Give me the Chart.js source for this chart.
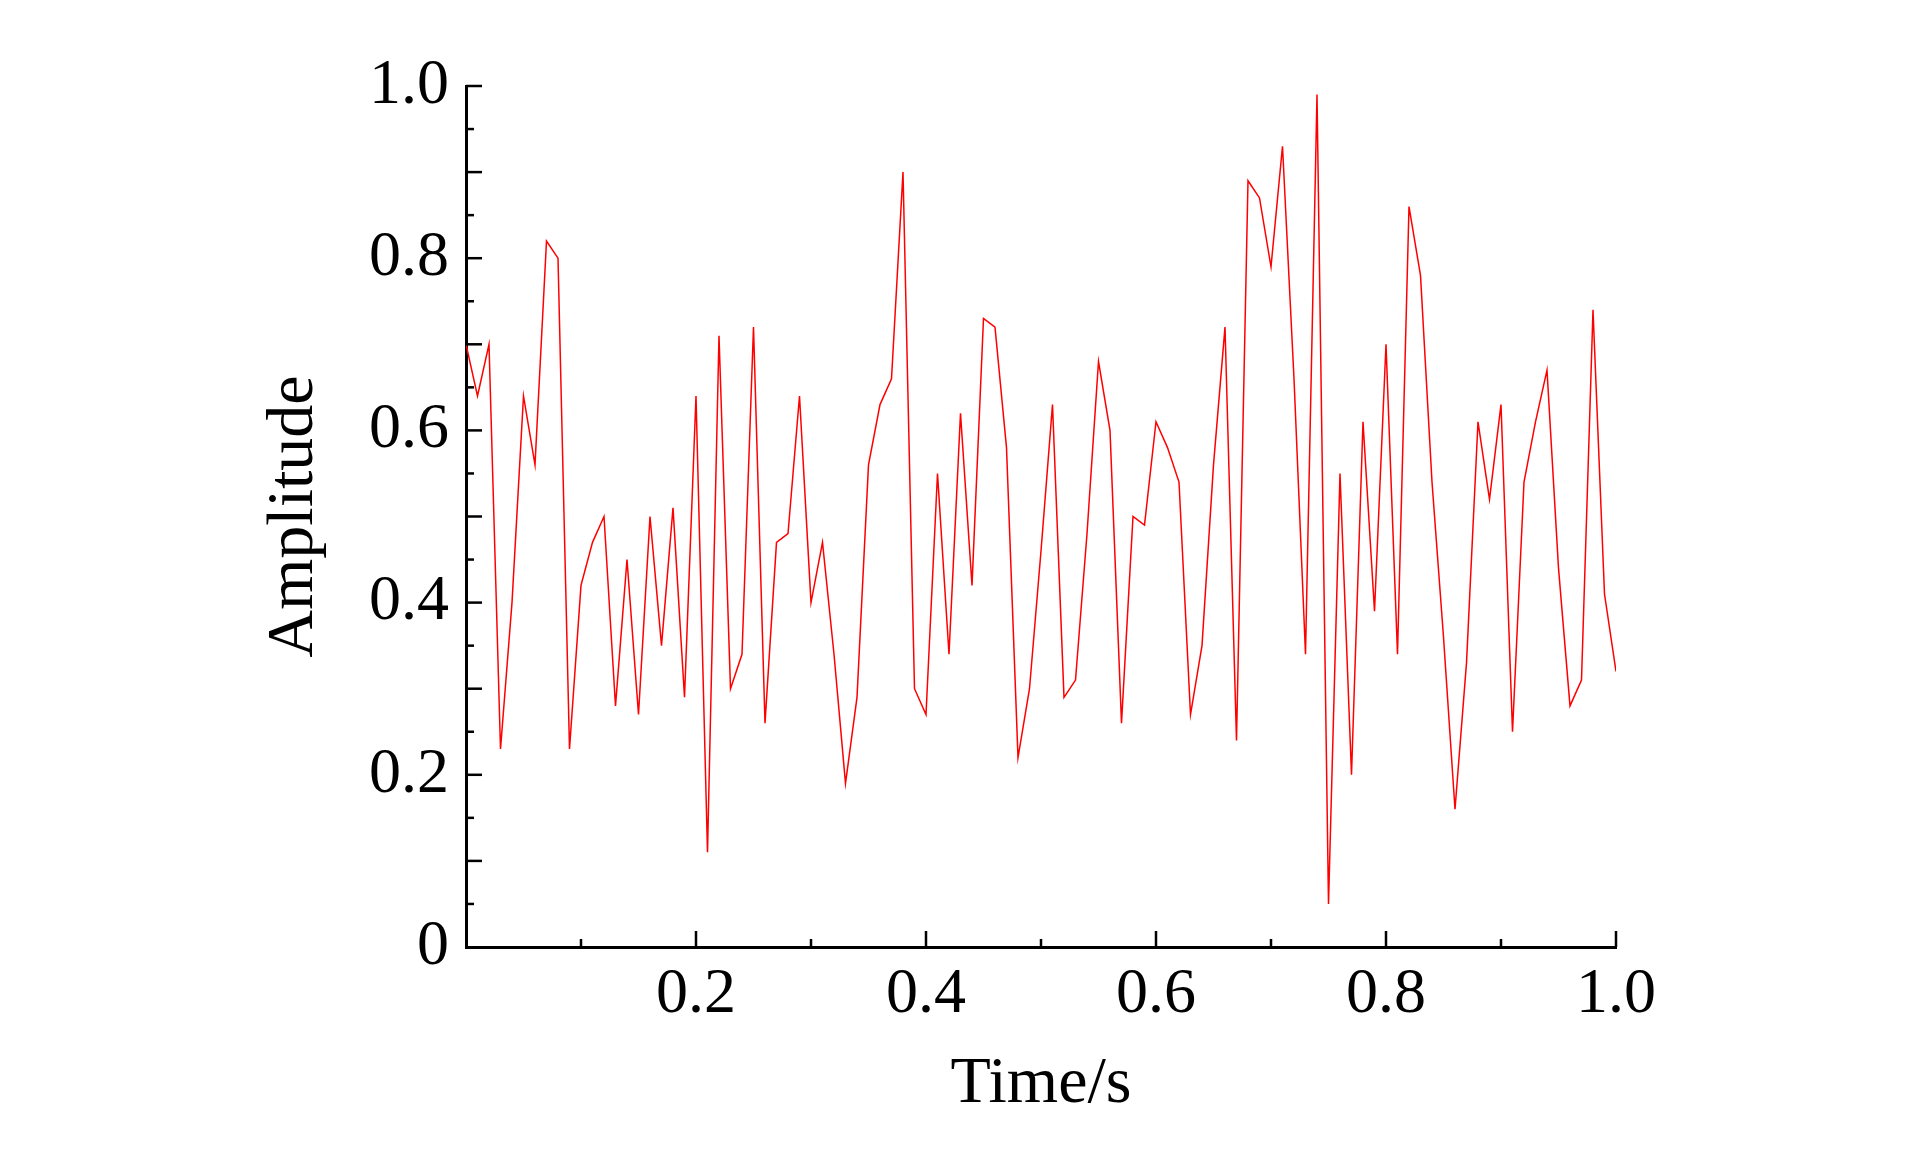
<!DOCTYPE html>
<html lang="en">
<head>
    <meta charset="UTF-8">
    <title>Amplitude vs Time</title>
    <script src="https://cdn.jsdelivr.net/npm/chart.js@4.4.1/dist/chart.umd.min.js"></script>
    <style>
        body {
            margin: 0;
            background: #ffffff;
        }
        #chart {
            display: block;
        }
    </style>
</head>
<body>
    <canvas id="chart" width="1923" height="1169"></canvas>

    <script>
        // Sample times (s), one every 0.01 s
        const times = [
            0.00, 0.01, 0.02, 0.03, 0.04, 0.05, 0.06, 0.07, 0.08, 0.09,
            0.10, 0.11, 0.12, 0.13, 0.14, 0.15, 0.16, 0.17, 0.18, 0.19,
            0.20, 0.21, 0.22, 0.23, 0.24, 0.25, 0.26, 0.27, 0.28, 0.29,
            0.30, 0.31, 0.32, 0.33, 0.34, 0.35, 0.36, 0.37, 0.38, 0.39,
            0.40, 0.41, 0.42, 0.43, 0.44, 0.45, 0.46, 0.47, 0.48, 0.49,
            0.50, 0.51, 0.52, 0.53, 0.54, 0.55, 0.56, 0.57, 0.58, 0.59,
            0.60, 0.61, 0.62, 0.63, 0.64, 0.65, 0.66, 0.67, 0.68, 0.69,
            0.70, 0.71, 0.72, 0.73, 0.74, 0.75, 0.76, 0.77, 0.78, 0.79,
            0.80, 0.81, 0.82, 0.83, 0.84, 0.85, 0.86, 0.87, 0.88, 0.89,
            0.90, 0.91, 0.92, 0.93, 0.94, 0.95, 0.96, 0.97, 0.98, 0.99,
            1.00
        ];

        // Amplitude
        const amplitude = [
            0.70, 0.64, 0.70, 0.23, 0.40, 0.64, 0.56, 0.82, 0.80, 0.23,
            0.42, 0.47, 0.50, 0.28, 0.45, 0.27, 0.50, 0.35, 0.51, 0.29,
            0.64, 0.11, 0.71, 0.30, 0.34, 0.72, 0.26, 0.47, 0.48, 0.64,
            0.40, 0.47, 0.34, 0.19, 0.29, 0.56, 0.63, 0.66, 0.90, 0.30,
            0.27, 0.55, 0.34, 0.62, 0.42, 0.73, 0.72, 0.58, 0.22, 0.30,
            0.46, 0.63, 0.29, 0.31, 0.48, 0.68, 0.60, 0.26, 0.50, 0.49,
            0.61, 0.58, 0.54, 0.27, 0.35, 0.56, 0.72, 0.24, 0.89, 0.87,
            0.79, 0.93, 0.66, 0.34, 0.99, 0.05, 0.55, 0.20, 0.61, 0.39,
            0.70, 0.34, 0.86, 0.78, 0.54, 0.36, 0.16, 0.33, 0.61, 0.52,
            0.63, 0.25, 0.54, 0.61, 0.67, 0.44, 0.28, 0.31, 0.74, 0.41,
            0.32
        ];

        // Labelled ticks (hundredths -> text)
        const xTickLabels = { 20: '0.2', 40: '0.4', 60: '0.6', 80: '0.8', 100: '1.0' };
        const yTickLabels = { 0: '0', 20: '0.2', 40: '0.4', 60: '0.6', 80: '0.8', 100: '1.0' };

        const serif = "'Liberation Serif', 'Times New Roman', serif";

        function labelFor(value, table) {
            const key = Math.round(value * 100);
            return table[key] || '';
        }

        // Inward tick marks, long on every 0.1 (y) / 0.2 (x), short otherwise
        const inwardTicks = {
            id: 'inwardTicks',
            afterDraw(chart) {
                const ctx = chart.ctx;
                const area = chart.chartArea;
                const xs = chart.scales.x;
                const ys = chart.scales.y;
                ctx.save();
                ctx.strokeStyle = '#000';
                ctx.lineWidth = 2.5;
                ys.ticks.forEach(t => {
                    const n = Math.round(t.value * 100);
                    if (n === 0) return;
                    const len = n % 10 === 0 ? 16 : 8;
                    const y = ys.getPixelForValue(t.value);
                    ctx.beginPath();
                    ctx.moveTo(area.left, y);
                    ctx.lineTo(area.left + len, y);
                    ctx.stroke();
                });
                xs.ticks.forEach(t => {
                    const n = Math.round(t.value * 10);
                    if (n === 0) return;
                    const len = n % 2 === 0 ? 16 : 8;
                    const x = xs.getPixelForValue(t.value);
                    ctx.beginPath();
                    ctx.moveTo(x, area.bottom);
                    ctx.lineTo(x, area.bottom - len);
                    ctx.stroke();
                });
                ctx.restore();
            }
        };

        new Chart(document.getElementById('chart'), {
            type: 'line',
            data: {
                datasets: [{
                    data: times.map((t, i) => ({ x: t, y: amplitude[i] })),
                    borderColor: '#ff0000',
                    borderWidth: 1.5,
                    pointRadius: 0,
                    tension: 0
                }]
            },
            options: {
                responsive: false,
                animation: false,
                layout: {
                    padding: { left: 0, right: 307, top: 86, bottom: 0 }
                },
                plugins: {
                    legend: { display: false },
                    tooltip: { enabled: false }
                },
                scales: {
                    x: {
                        type: 'linear',
                        min: 0,
                        max: 1,
                        grid: { display: false },
                        border: { display: true, color: '#000', width: 3 },
                        ticks: {
                            stepSize: 0.1,
                            autoSkip: false,
                            maxRotation: 0,
                            padding: 2,
                            color: '#000',
                            font: { family: serif, size: 64 },
                            callback: v => labelFor(v, xTickLabels)
                        },
                        title: {
                            display: true,
                            text: 'Time/s',
                            color: '#000',
                            font: { family: serif, size: 66 },
                            padding: { bottom: 45 }
                        },
                        afterFit: scale => { scale.height = 222; }
                    },
                    y: {
                        min: 0,
                        max: 1,
                        grid: { display: false },
                        border: { display: true, color: '#000', width: 3 },
                        ticks: {
                            stepSize: 0.05,
                            autoSkip: false,
                            padding: 9,
                            color: '#000',
                            font: { family: serif, size: 64 },
                            callback: v => labelFor(v, yTickLabels)
                        },
                        title: {
                            display: true,
                            text: 'Amplitude',
                            color: '#000',
                            font: { family: serif, size: 66 },
                            padding: { top: 255 }
                        },
                        afterFit: scale => { scale.width = 466; }
                    }
                }
            },
            plugins: [inwardTicks]
        });
    </script>
</body>
</html>
